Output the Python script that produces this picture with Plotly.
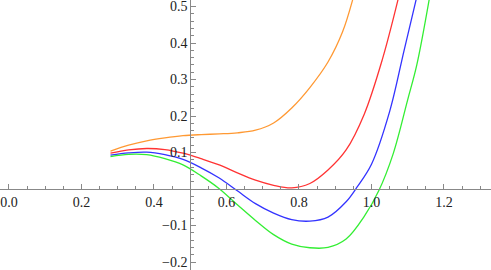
import plotly.graph_objects as go

# Curve samples
orange_x = [0.28, 0.33, 0.38, 0.43, 0.48, 0.53, 0.58, 0.63, 0.68, 0.73, 0.78, 0.83, 0.88, 0.92, 0.948]
orange_y = [0.104, 0.120, 0.132, 0.140, 0.146, 0.149, 0.151, 0.154, 0.161, 0.181, 0.222, 0.278, 0.348, 0.430, 0.518]

red_x = [0.28, 0.33, 0.38, 0.43, 0.48, 0.53, 0.58, 0.63, 0.68, 0.73, 0.78, 0.83, 0.88,
         0.93, 0.98, 1.03, 1.073]
red_y = [0.098, 0.107, 0.111, 0.108, 0.098, 0.083, 0.066, 0.044, 0.024, 0.010, 0.003, 0.015, 0.052,
         0.107, 0.205, 0.355, 0.518]

blue_x = [0.28, 0.33, 0.38, 0.43, 0.48, 0.53, 0.58, 0.63, 0.68, 0.73, 0.78, 0.83, 0.88,
          0.93, 0.96, 1.00, 1.05, 1.09, 1.123]
blue_y = [0.093, 0.099, 0.101, 0.094, 0.081, 0.058, 0.030, -0.005, -0.040, -0.066, -0.084, -0.088, -0.077,
          -0.035, 0.005, 0.068, 0.212, 0.380, 0.518]

green_x = [0.28, 0.33, 0.38, 0.43, 0.48, 0.53, 0.58, 0.63, 0.68, 0.73, 0.78, 0.83, 0.88,
           0.93, 0.98, 1.02, 1.06, 1.10, 1.125, 1.159]
green_y = [0.089, 0.095, 0.094, 0.083, 0.066, 0.036, 0.001, -0.043, -0.086, -0.125, -0.151, -0.161, -0.160,
           -0.137, -0.075, -0.005, 0.097, 0.245, 0.340, 0.518]

x_ticks = [0.0, 0.2, 0.4, 0.6, 0.8, 1.0, 1.2]
y_ticks = [-0.2, -0.1, 0.1, 0.2, 0.3, 0.4, 0.5]

x_range = [-0.0248, 1.3297]
y_range = [-0.2219, 0.5178]
x_cross = 0.5   # where the y axis sits
y_cross = 0.0   # where the x axis sits

series = [
    (orange_x, orange_y, "#FF9933"),
    (red_x, red_y, "#FF3333"),
    (blue_x, blue_y, "#3333FF"),
    (green_x, green_y, "#33EE33"),
]

fig = go.Figure()
for xs, ys, col in series:
    fig.add_trace(go.Scatter(x=xs, y=ys, mode="lines",
                             line=dict(color=col, width=1.3, shape="spline", smoothing=1.0),
                             hoverinfo="skip", showlegend=False, cliponaxis=True))

xpos = (y_cross - y_range[0]) / (y_range[1] - y_range[0])
ypos = (x_cross - x_range[0]) / (x_range[1] - x_range[0])

font = dict(family="Liberation Serif, Times New Roman, Times, serif", size=14, color="#222222")

fig.update_layout(
    width=491, height=270,
    margin=dict(l=0, r=0, t=0, b=0, autoexpand=False),
    paper_bgcolor="white", plot_bgcolor="white",
    xaxis=dict(range=x_range, anchor="free", position=xpos, automargin=False,
               showgrid=False, zeroline=False, showline=True, linecolor="#888888", linewidth=1,
               tickvals=x_ticks, ticktext=[f"{v:.1f}" for v in x_ticks],
               ticks="inside", ticklen=5, tickcolor="#888888", tickwidth=1,
               minor=dict(dtick=0.05, tick0=0, ticks="inside", ticklen=3, tickcolor="#888888", showgrid=False),
               tickfont=font, ticklabeloverflow="allow", fixedrange=True),
    yaxis=dict(range=y_range, anchor="free", position=ypos, automargin=False,
               showgrid=False, zeroline=False, showline=True, linecolor="#888888", linewidth=1,
               tickvals=y_ticks, ticktext=[f"{v:.1f}".replace("-", "\u2212") for v in y_ticks],
               ticks="inside", ticklen=5, tickcolor="#888888", tickwidth=1,
               minor=dict(dtick=0.02, tick0=0, ticks="inside", ticklen=3, tickcolor="#888888", showgrid=False),
               tickfont=font, ticklabeloverflow="allow", fixedrange=True),
)

fig.write_html("out.html", config={"displayModeBar": False},
               post_script="document.body.style.margin='0';document.body.style.overflow='hidden';")
